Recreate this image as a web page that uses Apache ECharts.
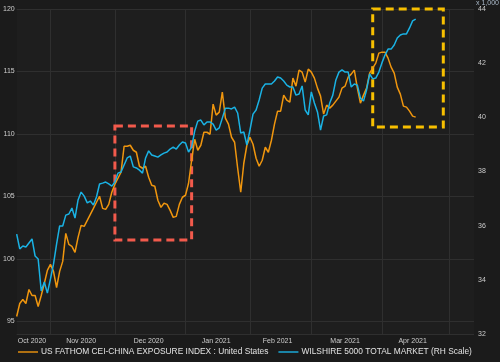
<!DOCTYPE html>
<html>
<head>
<meta charset="utf-8">
<script src="https://cdn.jsdelivr.net/npm/echarts@6/dist/echarts.min.js"></script>
<style>
html,body{margin:0;padding:0;background:#1b1b1b;}
#c{width:500px;height:362px;}
</style>
</head>
<body>
<div id="c"></div>
<script>
// Weekday calendar: first trading weekday shown and number of slots on the axis
const startDate = '2020-10-16';
const slotCount = 150;
const monthLabels = ['Oct 2020','Nov 2020','Dec 2020','Jan 2021','Feb 2021','Mar 2021','Apr 2021'];
const leftTicks = [95, 100, 105, 110, 115, 120];
const rightTicks = [32, 34, 36, 38, 40, 42, 44];

const seriesNames = ['US FATHOM CEI-CHINA EXPOSURE INDEX : United States', 'WILSHIRE 5000 TOTAL MARKET (RH Scale)'];

// US FATHOM CEI-China exposure index (left scale)
const fathom = [
95.4, 96.44, 96.76, 96.44, 97.56, 97.08, 97.08, 96.2, 97.08, 98.04,
99.09, 99.57, 99.01, 97.72, 99.01, 99.81, 102.05, 101.17, 101.01, 100.53,
101.73, 102.69, 102.61, 103.09, 103.57, 104.05, 104.54, 105.02, 104.05, 103.97,
104.37, 105.34, 105.98, 106.46, 106.94, 109.02, 109.02, 109.1, 108.7, 108.54,
107.42, 107.26, 107.42, 106.54, 105.9, 105.82, 104.7, 104.13, 104.46, 104.37,
103.89, 103.33, 103.41, 104.37, 104.94, 105.1, 106.06, 107.9, 109.58, 108.7,
109.1, 110.14, 110.14, 109.98, 112.39, 111.51, 111.75, 113.35, 111.27, 110.79,
109.74, 109.34, 107.26, 105.34, 107.66, 109.1, 109.74, 109.18, 108.06, 107.42,
107.9, 108.94, 108.54, 109.5, 110.79, 111.83, 111.83, 113.11, 112.71, 112.55,
114.47, 113.83, 115.11, 114.95, 114.15, 115.19, 114.95, 114.47, 113.67, 113.03,
111.59, 112.31, 112.07, 112.31, 112.63, 112.95, 113.67, 113.83, 114.55, 114.79,
115.11, 113.67, 112.47, 113.11, 113.67, 114.87, 115.27, 115.67, 116.47, 116.55,
116.55, 116.07, 115.35, 114.87, 113.75, 113.19, 112.23, 112.15, 111.83, 111.43,
111.35
];

// Wilshire 5000 total market, in thousands (right scale)
const wilshire = [
35.69, 35.14, 35.25, 35.21, 35.36, 35.51, 34.88, 34.77, 33.59, 33.92,
33.51, 34.03, 34.58, 35.32, 35.99, 35.99, 36.39, 36.43, 36.65, 36.28,
36.95, 37.24, 37.09, 36.84, 36.91, 36.76, 37.06, 37.54, 37.57, 37.61,
37.54, 37.46, 37.61, 37.94, 37.98, 38.24, 38.5, 38.57, 38.17, 38.13,
38.05, 37.94, 38.5, 38.76, 38.61, 38.57, 38.53, 38.61, 38.68, 38.72,
38.83, 38.9, 38.83, 38.98, 39.09, 39.05, 38.72, 38.9, 39.49, 39.86,
39.9, 39.72, 39.83, 39.83, 39.75, 39.53, 39.61, 39.97, 40.34, 40.34,
40.31, 40.38, 40.16, 39.42, 39.46, 38.98, 39.53, 40.12, 40.27, 40.64,
41.08, 41.23, 41.23, 41.23, 41.34, 41.49, 41.45, 41.34, 41.19, 41.12,
41.12, 40.82, 40.86, 41.16, 40.27, 40.09, 40.94, 40.53, 40.2, 39.53,
40.05, 40.09, 40.53, 40.82, 41.38, 41.67, 41.75, 41.67, 41.67, 41.12,
41.23, 41.19, 40.71, 40.6, 41.01, 41.6, 41.42, 41.45, 41.67, 42.01,
42.3, 42.52, 42.52, 42.67, 42.93, 43.04, 43.08, 43.08, 43.3, 43.56,
43.63
];

// Highlight boxes (data coordinates: weekday slot index, left-scale value)
const redBox = {from: 32, to: 57, low: 101.52, high: 110.64};
const yellowBox = {from: 116, to: 139, low: 110.56, high: 120};

// Build weekday categories
const cats = [];
const monthOf = [];
{
  const d = new Date(startDate + 'T00:00:00Z');
  while (cats.length < slotCount) {
    const wd = d.getUTCDay();
    if (wd !== 0 && wd !== 6) {
      cats.push(d.toISOString().slice(0, 10));
      monthOf.push(d.getUTCFullYear() * 12 + d.getUTCMonth());
    }
    d.setUTCDate(d.getUTCDate() + 1);
  }
}
const monthStart = new Set();
const labelAt = {};
{
  let groups = [];
  for (let i = 0; i < cats.length; i++) {
    if (i === 0 || monthOf[i] !== monthOf[i - 1]) {
      if (i > 0) monthStart.add(i);
      groups.push({first: i, last: i});
    } else groups[groups.length - 1].last = i;
  }
  groups.forEach((g, k) => {
    if (k < monthLabels.length) labelAt[Math.floor((g.first + g.last) / 2)] = monthLabels[k];
  });
}

const chart = echarts.init(document.getElementById('c'), null, {renderer: 'canvas'});
const txt = '#cdcdcd';
chart.setOption({
  backgroundColor: '#1b1b1b',
  animation: false,
  textStyle: {fontFamily: 'Liberation Sans, Arial, sans-serif'},
  grid: {left: 16, right: 26, top: 9, bottom: 28, show: true, backgroundColor: '#1e1e1e', borderWidth: 0},
  legend: {
    data: seriesNames,
    left: 13, bottom: 1,
    itemWidth: 20, itemHeight: 8, itemGap: 10,
    icon: 'path://M0,3.3H20V4.7H0Z',
    textStyle: {color: '#e2e2e2', fontSize: 8.4, padding: [0, 0, 0, -2]}
  },
  xAxis: {
    type: 'category', data: cats, boundaryGap: false,
    axisLine: {show: false}, axisTick: {show: false},
    axisLabel: {
      color: txt, fontSize: 7, margin: 4,
      interval: (i) => labelAt[i] !== undefined,
      formatter: (v, i) => labelAt[i] || ''
    },
    splitLine: {show: true, interval: (i) => monthStart.has(i), lineStyle: {color: '#2f2f2f', width: 1}}
  },
  yAxis: [
    {
      type: 'value', min: 94, max: 120, position: 'left',
      axisLine: {show: false}, axisTick: {show: false},
      axisLabel: {color: txt, fontSize: 7, margin: 2, showMinLabel: false,
        formatter: (v) => leftTicks.includes(v) ? String(v) : ''},
      splitLine: {lineStyle: {color: '#2f2f2f', width: 1}}
    },
    {
      type: 'value', min: 32, max: 44, interval: 2, position: 'right',
      axisLine: {show: false}, axisTick: {show: false},
      axisLabel: {color: txt, fontSize: 7, margin: 4,
        formatter: (v) => rightTicks.includes(v) ? String(v) : ''},
      splitLine: {show: false}
    }
  ],
  graphic: [{type: 'text', left: 476, top: 0, style: {text: 'x 1,000', fill: '#a9b8c8', fontSize: 7, fontFamily: 'Liberation Sans, Arial, sans-serif'}}],
  series: [
    {name: seriesNames[0], type: 'line', yAxisIndex: 0, data: fathom, showSymbol: false, symbol: 'none',
      lineStyle: {color: '#f0960e', width: 1.5}, itemStyle: {color: '#f0960e'}},
    {name: seriesNames[1], type: 'line', yAxisIndex: 1, data: wilshire, showSymbol: false, symbol: 'none',
      lineStyle: {color: '#1ab2e4', width: 1.5}, itemStyle: {color: '#1ab2e4'}},
    {name: 'boxes', type: 'line', yAxisIndex: 0, data: [], z: 10, silent: true,
      markArea: {silent: true, data: [
        [{xAxis: cats[redBox.from], yAxis: redBox.high, itemStyle: {color: 'rgba(0,0,0,0)', borderColor: '#f25a4c', borderWidth: 3, borderType: [8, 5]}},
         {xAxis: cats[redBox.to], yAxis: redBox.low}],
        [{xAxis: cats[yellowBox.from], yAxis: yellowBox.high, itemStyle: {color: 'rgba(0,0,0,0)', borderColor: '#f7bf00', borderWidth: 3, borderType: [8, 5]}},
         {xAxis: cats[yellowBox.to], yAxis: yellowBox.low}]
      ]}}
  ]
});
</script>
</body>
</html>
